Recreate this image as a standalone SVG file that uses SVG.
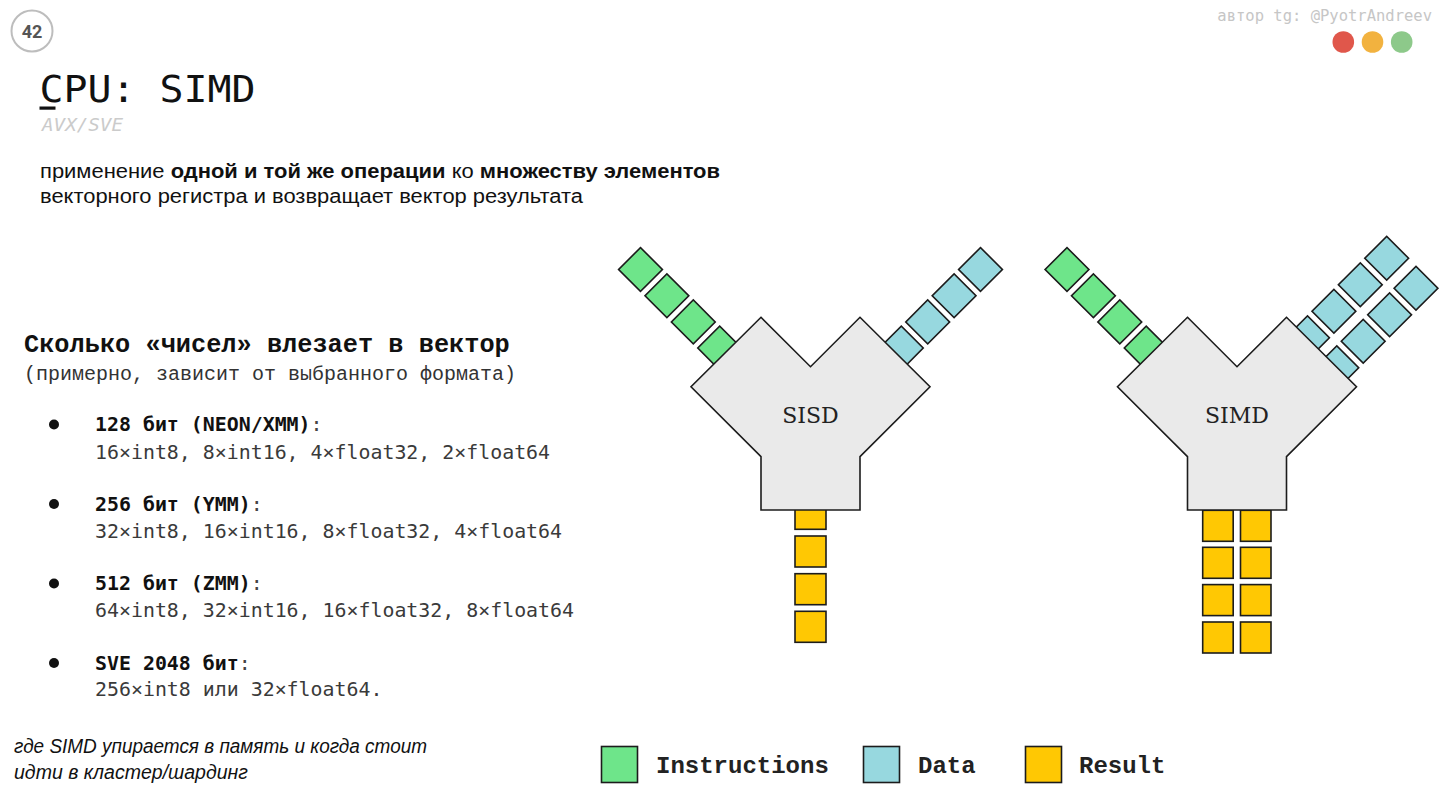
<svg xmlns="http://www.w3.org/2000/svg" xmlns:xlink="http://www.w3.org/1999/xlink" width="1440" height="810" viewBox="0 0 1440 810">
<style>
.g{fill:#6ee58a;stroke:#1c1c1c;stroke-width:1.6}
.b{fill:#97d8df;stroke:#1c1c1c;stroke-width:1.6}
.y{fill:#ffc803;stroke:#1c1c1c;stroke-width:1.6}
.body{fill:#eaeaea;stroke:#1c1c1c;stroke-width:1.6;stroke-linejoin:miter}
.lbl{font-family:"DejaVu Serif","Liberation Serif",serif;font-size:22px;fill:#222;text-anchor:middle}
.mono{font-family:"DejaVu Sans Mono","Liberation Mono",monospace}
.cour{font-family:"Liberation Mono","DejaVu Sans Mono",monospace}
.sans{font-family:"Liberation Sans",Arial,sans-serif}
.hd{font-family:"DejaVu Sans Mono","Liberation Mono",monospace;font-size:19.9px;font-weight:bold;fill:#111}
.dt{font-family:"DejaVu Sans Mono","Liberation Mono",monospace;font-size:19.9px;fill:#3a3a3a}
.leg{font-family:"Liberation Mono","DejaVu Sans Mono",monospace;font-size:24px;font-weight:bold;fill:#222}
</style>
<defs>
<rect id="sq" x="-15.5" y="-15.5" width="31" height="31"/>
</defs>
<rect width="1440" height="810" fill="#ffffff"/>

<g id="slide-number">
<circle cx="32" cy="31" r="20.5" fill="none" stroke="#bdbdbd" stroke-width="2"/>
<text x="32" y="37.5" font-family="Roboto,'Liberation Sans',sans-serif" font-size="18" font-weight="bold" fill="#555" text-anchor="middle">42</text>
</g>

<g id="author">
<text x="1432" y="21" class="mono" font-size="15.5" fill="#c6c6c6" text-anchor="end">автор tg: @PyotrAndreev</text>
<circle cx="1343.3" cy="42" r="10.8" fill="#e0574b"/>
<circle cx="1372.5" cy="42" r="10.8" fill="#f2b23f"/>
<circle cx="1401.7" cy="42" r="10.8" fill="#8dc98a"/>
</g>

<g id="title">
<text x="39.5" y="102" class="mono" font-size="38" fill="#111" textLength="216" lengthAdjust="spacingAndGlyphs">CPU: SIMD</text>
<rect x="39.5" y="106.5" width="16" height="3.2" fill="#111"/>
<text x="42" y="131" class="mono" font-size="18.5" font-style="italic" fill="#cbcbcb" textLength="81" lengthAdjust="spacingAndGlyphs">AVX/SVE</text>
</g>

<g id="intro">
<text x="40" y="178" class="sans" font-size="20" fill="#111" textLength="680" lengthAdjust="spacingAndGlyphs">применение <tspan font-weight="bold">одной и той же операции</tspan> ко <tspan font-weight="bold">множеству элементов</tspan></text>
<text x="40" y="203" class="sans" font-size="20" fill="#111" textLength="543" lengthAdjust="spacingAndGlyphs">векторного регистра и возвращает вектор результата</text>
</g>

<g id="list-heading">
<text x="24" y="352" class="cour" font-size="25.3" font-weight="bold" fill="#111">Сколько «чисел» влезает в вектор</text>
<text x="24" y="380" class="cour" font-size="20" fill="#333">(примерно, зависит от выбранного формата)</text>
</g>

<g id="item-128">
<circle cx="54" cy="424.5" r="5" fill="#111"/>
<text x="95" y="431" class="hd">128 бит (NEON/XMM)<tspan font-weight="normal" fill="#444">:</tspan></text>
<text x="95" y="459" class="dt">16×int8, 8×int16, 4×float32, 2×float64</text>
</g>
<g id="item-256">
<circle cx="54" cy="504" r="5" fill="#111"/>
<text x="95" y="511" class="hd">256 бит (YMM)<tspan font-weight="normal" fill="#444">:</tspan></text>
<text x="95" y="538" class="dt">32×int8, 16×int16, 8×float32, 4×float64</text>
</g>
<g id="item-512">
<circle cx="54" cy="583.5" r="5" fill="#111"/>
<text x="95" y="590" class="hd">512 бит (ZMM)<tspan font-weight="normal" fill="#444">:</tspan></text>
<text x="95" y="617" class="dt">64×int8, 32×int16, 16×float32, 8×float64</text>
</g>
<g id="item-sve">
<circle cx="54" cy="663" r="5" fill="#111"/>
<text x="95" y="670" class="hd">SVE 2048 бит<tspan font-weight="normal" fill="#444">:</tspan></text>
<text x="95" y="696" class="dt">256×int8 или 32×float64.</text>
</g>

<g id="footnote">
<text x="14" y="753" class="sans" font-size="19.5" font-style="italic" fill="#111" textLength="413" lengthAdjust="spacingAndGlyphs">где SIMD упирается в память и когда стоит</text>
<text x="14" y="779" class="sans" font-size="19.5" font-style="italic" fill="#111" textLength="234" lengthAdjust="spacingAndGlyphs">идти в кластер/шардинг</text>
</g>

<g id="sisd">
<use xlink:href="#sq" class="g" transform="translate(640.5 269.5) rotate(45)"/>
<use xlink:href="#sq" class="g" transform="translate(666.9 295.7) rotate(45)"/>
<use xlink:href="#sq" class="g" transform="translate(693.3 321.9) rotate(45)"/>
<use xlink:href="#sq" class="g" transform="translate(719.7 348.1) rotate(45)"/>
<use xlink:href="#sq" class="b" transform="translate(980.5 269.5) rotate(45)"/>
<use xlink:href="#sq" class="b" transform="translate(954.1 295.7) rotate(45)"/>
<use xlink:href="#sq" class="b" transform="translate(927.7 321.9) rotate(45)"/>
<use xlink:href="#sq" class="b" transform="translate(901.3 348.1) rotate(45)"/>
<rect class="y" x="795" y="498.3" width="31" height="31"/>
<rect class="y" x="795" y="536" width="31" height="31"/>
<rect class="y" x="795" y="573.7" width="31" height="31"/>
<rect class="y" x="795" y="611.3" width="31" height="31"/>
<path class="body" d="M761,317.3 L810.5,366.7 L860,317.3 L930,386.7 L860,456.7 L860,510 L761,510 L761,456.7 L691,386.7 Z"/>
<text x="810.5" y="422.5" class="lbl">SISD</text>
</g>

<g id="simd">
<use xlink:href="#sq" class="g" transform="translate(1067 269.5) rotate(45)"/>
<use xlink:href="#sq" class="g" transform="translate(1093.4 295.7) rotate(45)"/>
<use xlink:href="#sq" class="g" transform="translate(1119.8 321.9) rotate(45)"/>
<use xlink:href="#sq" class="g" transform="translate(1146.2 348.1) rotate(45)"/>
<use xlink:href="#sq" class="b" transform="translate(1386.7 258.3) rotate(45)"/>
<use xlink:href="#sq" class="b" transform="translate(1360.3 284.8) rotate(45)"/>
<use xlink:href="#sq" class="b" transform="translate(1333.9 311.3) rotate(45)"/>
<use xlink:href="#sq" class="b" transform="translate(1307.5 337.8) rotate(45)"/>
<use xlink:href="#sq" class="b" transform="translate(1416 288.3) rotate(45)"/>
<use xlink:href="#sq" class="b" transform="translate(1389.6 314.8) rotate(45)"/>
<use xlink:href="#sq" class="b" transform="translate(1363.2 341.3) rotate(45)"/>
<use xlink:href="#sq" class="b" transform="translate(1336.8 367.8) rotate(45)"/>
<rect class="y" x="1202.7" y="510.3" width="30.5" height="31"/>
<rect class="y" x="1240.5" y="510.3" width="30.5" height="31"/>
<rect class="y" x="1202.7" y="547.3" width="30.5" height="31"/>
<rect class="y" x="1240.5" y="547.3" width="30.5" height="31"/>
<rect class="y" x="1202.7" y="584.6" width="30.5" height="31"/>
<rect class="y" x="1240.5" y="584.6" width="30.5" height="31"/>
<rect class="y" x="1202.7" y="622" width="30.5" height="31"/>
<rect class="y" x="1240.5" y="622" width="30.5" height="31"/>
<path class="body" d="M1187.5,317.3 L1237,366.7 L1286.5,317.3 L1356.5,386.7 L1286.5,456.7 L1286.5,510 L1187.5,510 L1187.5,456.7 L1117.5,386.7 Z"/>
<text x="1237" y="422.5" class="lbl">SIMD</text>
</g>

<g id="legend">
<rect class="g" x="601.5" y="746.5" width="36" height="36"/>
<text x="656" y="773" class="leg">Instructions</text>
<rect class="b" x="863.5" y="746.5" width="36" height="36"/>
<text x="918" y="773" class="leg">Data</text>
<rect class="y" x="1025.5" y="746.5" width="36" height="36"/>
<text x="1079" y="773" class="leg">Result</text>
</g>
</svg>
